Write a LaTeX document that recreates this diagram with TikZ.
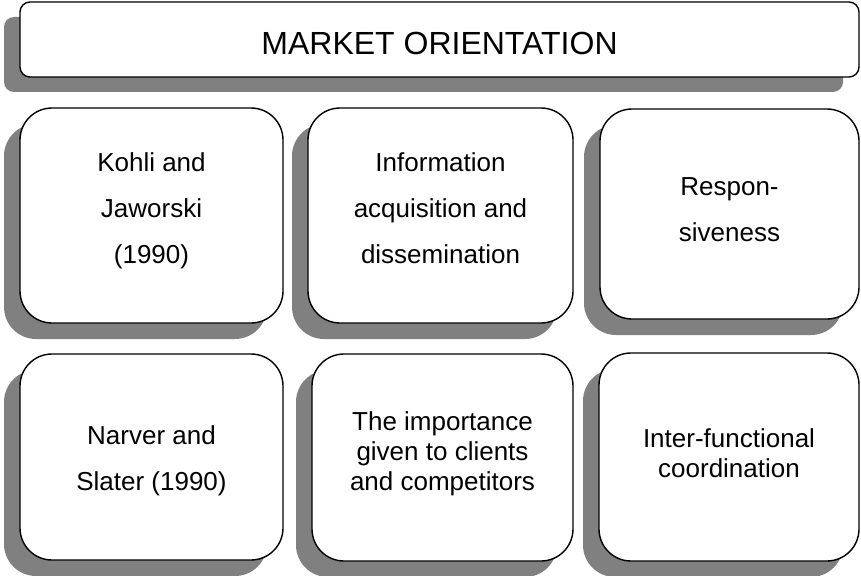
\documentclass[tikz,border=0pt]{standalone}
\usepackage{fontspec}
\setmainfont{Liberation Sans}
\begin{document}
\begin{tikzpicture}[x=1pt,y=-1pt,
  shadowbox/.style={draw=none,fill=shadowgray,rectangle,inner sep=0pt},
  mainbox/.style={draw=black,line width=1.4pt,fill=white,rectangle,inner sep=0pt},
  widetxt/.style={font=\fontsize{26}{46}\selectfont,align=center,inner sep=0pt,anchor=base},
  tighttxt/.style={font=\fontsize{26}{30}\selectfont,align=center,inner sep=0pt,anchor=base},
  titletxt/.style={font=\fontsize{32}{38}\selectfont,inner sep=0pt,anchor=base}]
\definecolor{shadowgray}{HTML}{808080}
\useasboundingbox (0,0) rectangle (861,575);
% banner
\node[shadowbox,rounded corners=10pt,minimum width=839pt,minimum height=75pt] (sban) at (423.5,54.5) {};
\node[mainbox,rounded corners=10pt,minimum width=839pt,minimum height=75pt] (ban) at (439.5,39.5) {};
\node[titletxt] (tban) at (439.5,55) {MARKET ORIENTATION};
% row 1
\node[shadowbox,rounded corners=32pt,minimum width=263pt,minimum height=215pt] (s11) at (135.5,231.5) {};
\node[mainbox,rounded corners=32pt,minimum width=263pt,minimum height=215pt] (b11) at (151.5,215.5) {};
\node[shadowbox,rounded corners=32pt,minimum width=265pt,minimum height=215pt] (s12) at (424.5,231.5) {};
\node[mainbox,rounded corners=32pt,minimum width=265pt,minimum height=215pt] (b12) at (440.5,215.5) {};
\node[shadowbox,rounded corners=32pt,minimum width=259pt,minimum height=210pt] (s13) at (713.5,230) {};
\node[mainbox,rounded corners=32pt,minimum width=259pt,minimum height=210pt] (b13) at (729.5,214) {};
\node[widetxt] (t11) at (151.5,263) {Kohli and\\Jaworski\\(1990)};
\node[widetxt] (t12) at (440.5,263) {Information\\acquisition and\\dissemination};
\node[widetxt] (t13) at (729.5,241) {Respon-\\siveness};
% row 2
\node[shadowbox,rounded corners=32pt,minimum width=263pt,minimum height=206pt] (s21) at (135.5,473) {};
\node[mainbox,rounded corners=32pt,minimum width=263pt,minimum height=206pt] (b21) at (151.5,457) {};
\node[shadowbox,rounded corners=32pt,minimum width=261pt,minimum height=207pt] (s22) at (426.5,473.5) {};
\node[mainbox,rounded corners=32pt,minimum width=261pt,minimum height=207pt] (b22) at (442.5,457.5) {};
\node[shadowbox,rounded corners=32pt,minimum width=260pt,minimum height=208pt] (s23) at (713,473) {};
\node[mainbox,rounded corners=32pt,minimum width=260pt,minimum height=208pt] (b23) at (729,457) {};
\node[widetxt] (t21) at (151.5,490) {Narver and\\Slater (1990)};
\node[tighttxt] (t22) at (442.5,490) {The importance\\given to clients\\and competitors};
\node[tighttxt] (t23) at (729,477) {Inter-functional\\coordination};
\end{tikzpicture}
\end{document}
